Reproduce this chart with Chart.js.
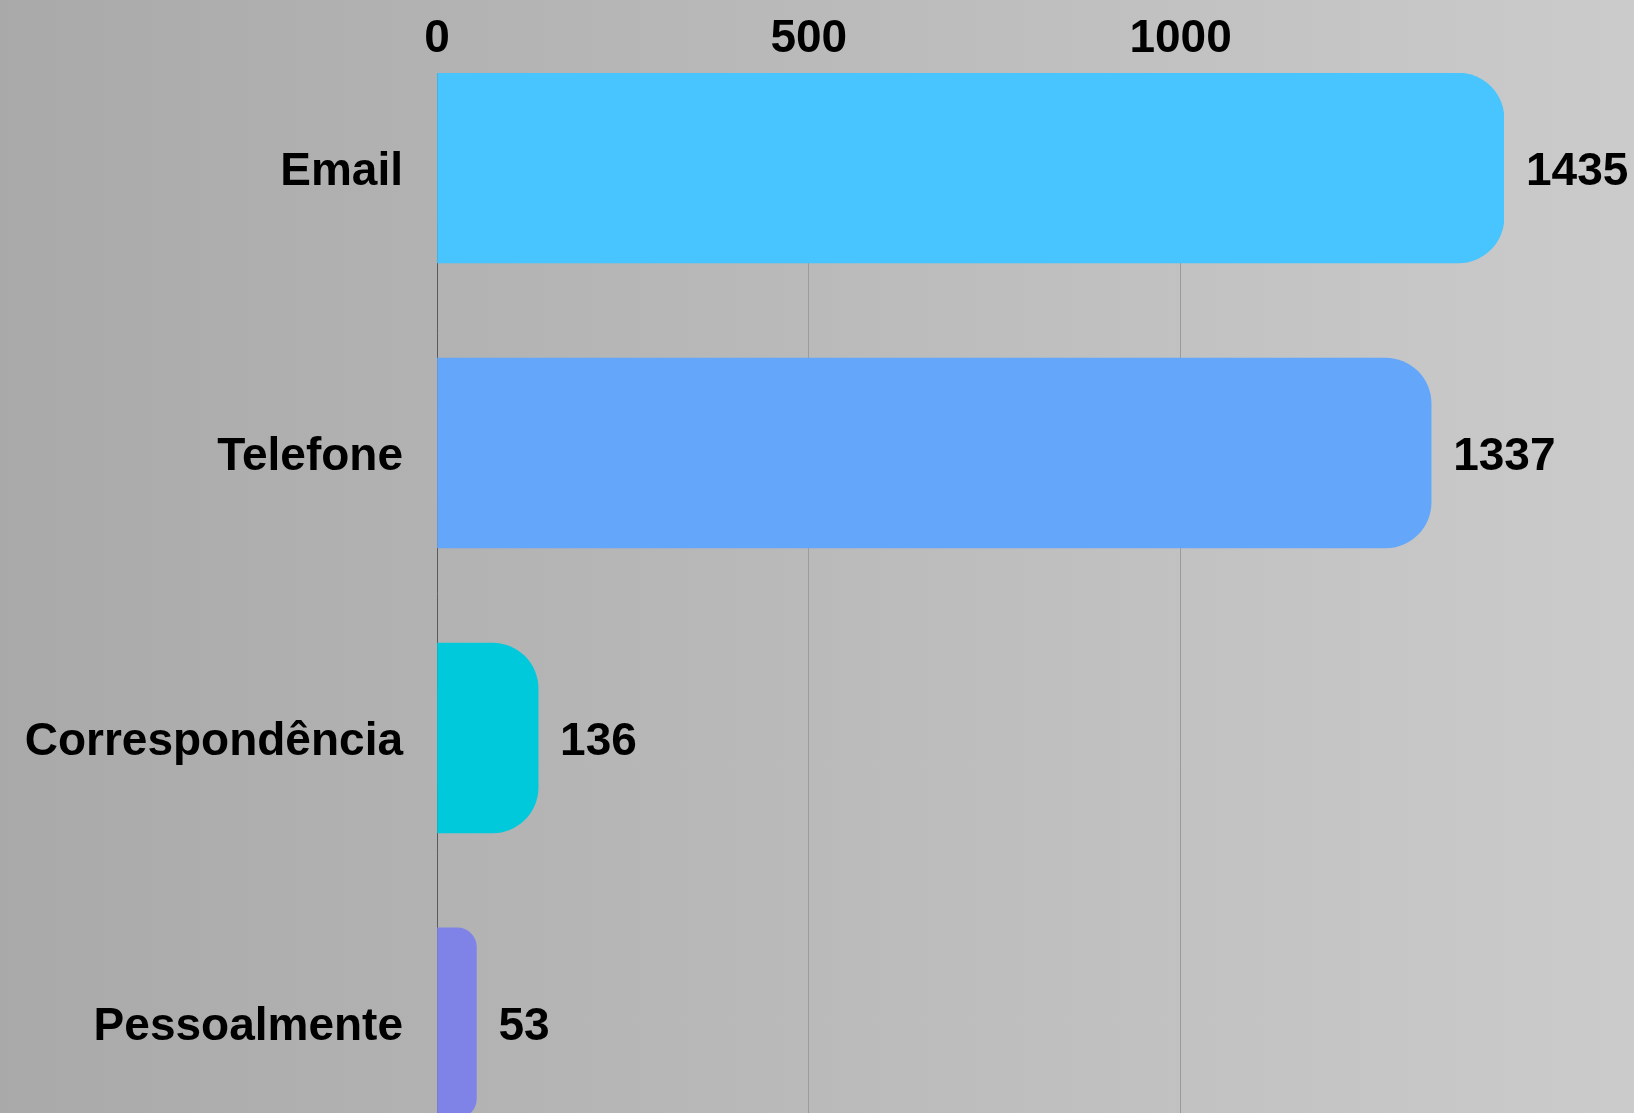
<!DOCTYPE html>
<html>
<head>
<meta charset="utf-8">
<script src="https://cdn.jsdelivr.net/npm/chart.js@4/dist/chart.umd.min.js"></script>
<style>
  html, body { margin: 0; padding: 0; }
  body {
    width: 1634px;
    height: 1113px;
    overflow: hidden;
    background: linear-gradient(to right, #a9a9a9, #cbcbcb);
  }
  canvas { display: block; }
</style>
</head>
<body>
<canvas id="chart" width="1634" height="1113"></canvas>
<script>
const categories = ['Email', 'Telefone', 'Correspondência', 'Pessoalmente'];
const contactCounts = [1435, 1337, 136, 53];
const barColors = ['#48c4fe', '#64a7fa', '#00c9db', '#7f83e8'];
const xTicks = [0, 500, 1000];

const labelFont = { family: 'Liberation Sans', size: 46, weight: 'bold', lineHeight: 1 };

// value labels at the end of each bar (no datalabels plugin offline)
const valueLabels = {
  id: 'valueLabels',
  afterDatasetsDraw(chart) {
    const ctx = chart.ctx;
    const meta = chart.getDatasetMeta(0);
    ctx.save();
    ctx.font = 'bold 46px "Liberation Sans"';
    ctx.fillStyle = '#000';
    ctx.textAlign = 'left';
    ctx.textBaseline = 'middle';
    meta.data.forEach((bar, i) => {
      ctx.fillText(String(contactCounts[i]), bar.x + 22, bar.y + 4);
    });
    ctx.restore();
  }
};

// index axis is linear so the first bar can start right at the chart top
const points = contactCounts.map((v, i) => ({ x: v, y: i }));

new Chart(document.getElementById('chart'), {
  type: 'bar',
  data: {
    datasets: [{
      data: points,
      backgroundColor: barColors,
      borderWidth: 0,
      borderRadius: 46,
      borderSkipped: 'start',
      barThickness: 190
    }]
  },
  options: {
    indexAxis: 'y',
    responsive: false,
    animation: false,
    layout: { padding: { top: 14, right: 130, bottom: 0, left: 0 } },
    plugins: {
      legend: { display: false },
      tooltip: { enabled: false }
    },
    scales: {
      x: {
        type: 'linear',
        position: 'top',
        bounds: 'data',
        min: 0,
        max: Math.max(...contactCounts),
        afterBuildTicks: (scale) => {
          scale.ticks = xTicks.map(v => ({ value: v }));
        },
        afterFit: (scale) => { scale.height = 59; },
        ticks: {
          color: '#000',
          font: labelFont,
          padding: 11,
          callback: (v) => String(v)
        },
        grid: {
          drawTicks: false,
          color: '#9b9b9b',
          lineWidth: 1
        },
        border: { display: false }
      },
      y: {
        type: 'linear',
        reverse: true,
        offset: false,
        bounds: 'data',
        min: -1 / 3,
        max: 3.316,
        afterBuildTicks: (scale) => {
          scale.ticks = categories.map((c, i) => ({ value: i }));
        },
        afterFit: (scale) => {
          scale.width = 437;
          scale.paddingTop = 0;
          scale.paddingBottom = 0;
        },
        ticks: {
          color: '#000',
          font: labelFont,
          padding: 34,
          labelOffset: 4,
          callback: (v) => categories[v] ?? ''
        },
        grid: { display: false, drawTicks: false, offset: false },
        border: { display: true, color: '#5a5a5a', width: 1 }
      }
    }
  },
  plugins: [valueLabels]
});
</script>
</body>
</html>
